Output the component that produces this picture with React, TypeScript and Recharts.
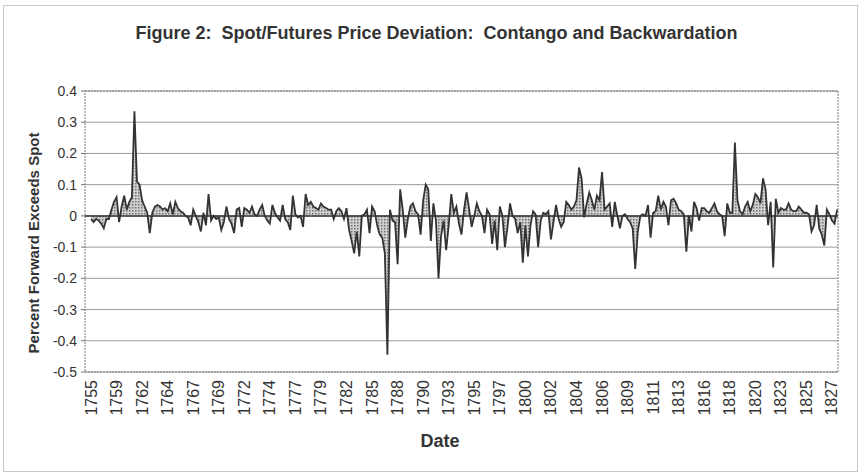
import {
  Area,
  AreaChart,
  CartesianGrid,
  ReferenceArea,
  ReferenceLine,
  XAxis,
  YAxis,
} from 'recharts';

// tick labels along the date axis (one every 10 points)
const years = [
  '1755', '1759', '1762', '1764', '1767', '1769', '1772', '1774', '1777', '1779',
  '1782', '1785', '1788', '1790', '1793', '1795', '1797', '1800', '1802', '1804',
  '1806', '1809', '1811', '1813', '1816', '1818', '1820', '1823', '1825', '1827',
];

const yTicks = [-0.5, -0.4, -0.3, -0.2, -0.1, 0, 0.1, 0.2, 0.3, 0.4];

// percent forward exceeds spot
const deviation = [
  -0.01, -0.02, -0.01, -0.015, -0.025, -0.04, -0.01, -0.01, 0.02, 0.045,
  0.06, -0.02, 0.03, 0.065, 0.02, 0.045, 0.06, 0.335, 0.11, 0.1,
  0.05, 0.03, 0.01, -0.055, 0.01, 0.03, 0.035, 0.03, 0.02, 0.025,
  0.015, 0.04, 0.005, 0.045, 0.025, 0.015, 0.01, 0.0, -0.005, -0.03,
  0.02, 0.0, -0.02, -0.05, 0.01, -0.03, 0.07, -0.015, 0.0, -0.01,
  -0.005, -0.045, -0.02, 0.03, -0.01, -0.025, -0.055, 0.02, 0.025, -0.035,
  0.025, 0.02, 0.01, 0.03, 0.005, 0.0, 0.02, 0.035, 0.0, -0.015,
  -0.025, 0.035, 0.01, -0.005, -0.015, 0.035, -0.01, -0.02, -0.045, 0.065,
  0.005, -0.005, 0.0, -0.035, 0.07, 0.035, 0.045, 0.03, 0.025, 0.02,
  0.04, 0.03, 0.025, 0.02, 0.02, -0.01, 0.015, 0.025, 0.015, -0.01,
  0.025, -0.045, -0.08, -0.12, -0.05, -0.13, 0.0, 0.005, 0.02, -0.055,
  0.03, 0.015, -0.03, -0.06, -0.07, -0.12, -0.445, 0.02, -0.015, -0.02,
  -0.155, 0.085, 0.02, -0.07, -0.01, 0.03, 0.04, 0.015, 0.005, -0.06,
  0.05, 0.1, 0.085, -0.08, 0.04, -0.015, -0.2, -0.065, -0.015, -0.11,
  -0.03, 0.07, 0.01, 0.03, -0.025, -0.06, 0.02, 0.075, 0.02, -0.035,
  0.0, 0.04, 0.015, 0.0, -0.055, 0.02, 0.005, -0.09, -0.015, -0.11,
  0.03, 0.0, -0.1, -0.035, 0.04, 0.0, -0.01, -0.055, -0.02, -0.15,
  -0.03, -0.13, -0.03, 0.015, 0.005, -0.1, -0.015, 0.01, 0.005, 0.015,
  -0.075, -0.02, 0.035, -0.01, -0.035, -0.02, 0.045, 0.035, 0.02, 0.03,
  0.05, 0.155, 0.12, -0.005, 0.04, 0.075, 0.05, 0.02, 0.065, 0.05,
  0.14, 0.02, 0.03, 0.04, -0.035, 0.045, 0.0, -0.04, 0.0, 0.005,
  -0.01, -0.02, -0.04, -0.17, -0.05, 0.0, 0.005, 0.0, 0.035, -0.07,
  0.01, 0.015, 0.065, 0.02, 0.045, 0.03, -0.03, 0.05, 0.055, 0.04,
  0.02, 0.015, 0.005, -0.115, 0.0, -0.05, 0.045, 0.025, -0.015, 0.025,
  0.025, 0.015, 0.01, 0.025, 0.04, 0.015, 0.005, 0.0, -0.065, 0.04,
  0.01, 0.01, 0.235, 0.05, 0.015, 0.005, 0.03, 0.045, 0.015, 0.035,
  0.07, 0.06, 0.04, 0.12, 0.085, -0.03, 0.045, -0.165, 0.055, 0.01,
  0.025, 0.02, 0.02, 0.04, 0.02, 0.015, 0.015, 0.03, 0.02, 0.01,
  0.01, 0.005, -0.05, -0.03, 0.035, -0.04, -0.06, -0.095, 0.02, 0.005,
  -0.015, -0.025, 0.02,
];

const data = deviation.map((v, i) => ({ i, v }));
const xTicks = years.map((_, k) => k * 10);

const font = "'Liberation Sans', Arial, sans-serif";

const YearTick = ({ x, y, payload }: any) => {
  const label = years[Math.round(payload.value / 10)];
  return (
    <text
      x={x}
      y={y}
      transform={`rotate(-90 ${x} ${y})`}
      textAnchor="end"
      dominantBaseline="central"
      fontSize={16}
      fontFamily={font}
      fill="#333"
    >
      {label}
    </text>
  );
};

const fmtY = (v: number) => (Math.abs(v) < 1e-9 ? '0' : v.toFixed(1));

const App = () => {
  return (
    <div
      style={{
        position: 'absolute',
        left: 0,
        top: 0,
        width: 860,
        height: 475,
        background: '#fff',
        fontFamily: font,
        color: '#333',
      }}
    >
      <div
        style={{
          position: 'absolute',
          left: 3,
          top: 5,
          width: 853,
          height: 465,
          border: '1px solid #c8c8c8',
        }}
      />
      <div
        style={{
          position: 'absolute',
          left: 0,
          width: 873,
          top: 23,
          textAlign: 'center',
          fontWeight: 'bold',
          fontSize: 18,
          whiteSpace: 'pre',
        }}
      >
        {'Figure 2:  Spot/Futures Price Deviation:  Contango and Backwardation'}
      </div>
      <div
        style={{
          position: 'absolute',
          left: 33,
          top: 243,
          transform: 'translate(-50%, -50%) rotate(-90deg)',
          fontWeight: 'bold',
          fontSize: 15,
          whiteSpace: 'nowrap',
        }}
      >
        Percent Forward Exceeds Spot
      </div>
      <div
        style={{
          position: 'absolute',
          left: 440,
          top: 441,
          transform: 'translate(-50%, -50%)',
          fontWeight: 'bold',
          fontSize: 18,
        }}
      >
        Date
      </div>

      <div style={{ position: 'absolute', left: 0, top: 0 }}>
        <AreaChart
          width={860}
          height={475}
          data={data}
          margin={{ top: 91, right: 22, bottom: 53, left: 25 }}
        >
          <defs>
            <pattern id="stipple" width="3" height="3" patternUnits="userSpaceOnUse">
              <rect width="3" height="3" fill="#d0d0d0" />
              <rect width="1.5" height="1.5" fill="#707070" />
            </pattern>
          </defs>
          <CartesianGrid vertical={false} stroke="#9a9a9a" />
          <XAxis
            type="number"
            dataKey="i"
            domain={[-2.35, 292.35]}
            ticks={xTicks}
            interval={0}
            tick={<YearTick />}
            axisLine={false}
            tickLine={false}
            height={50}
            allowDataOverflow
          />
          <YAxis
            type="number"
            domain={[-0.5, 0.4]}
            ticks={yTicks}
            interval={0}
            tickFormatter={fmtY}
            tick={{ fontSize: 14, fill: '#333', fontFamily: font }}
            tickSize={4}
            tickMargin={4}
            tickLine={{ stroke: '#777' }}
            axisLine={false}
            width={60}
            allowDataOverflow
          />
          <ReferenceArea
            x1={-2.35}
            x2={292.35}
            y1={-0.5}
            y2={0.4}
            fill="none"
            fillOpacity={0}
            stroke="#777"
            strokeDasharray="2 1"
          />
          <Area
            type="linear"
            dataKey="v"
            baseValue={0}
            stroke="#333"
            strokeWidth={1.8}
            fill="url(#stipple)"
            fillOpacity={1}
            dot={false}
            activeDot={false}
            isAnimationActive={false}
          />
          <ReferenceLine y={0} stroke="#333" strokeWidth={1.5} />
        </AreaChart>
      </div>
    </div>
  );
};

export default App;
